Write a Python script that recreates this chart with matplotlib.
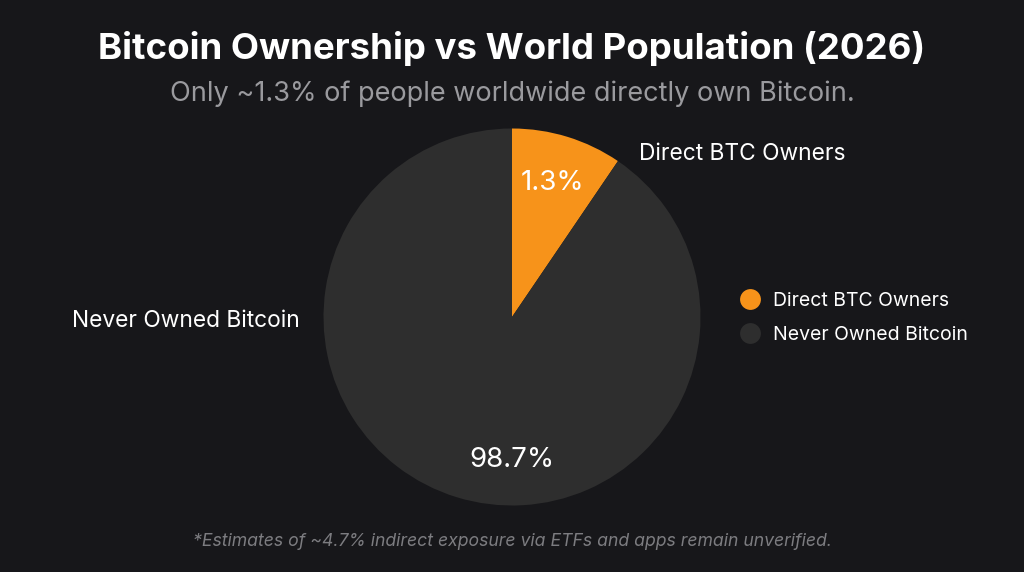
import matplotlib.pyplot as plt
from matplotlib.lines import Line2D

plt.rcParams["font.family"] = ["Inter", "DejaVu Sans"]

# data
categories = ["Direct BTC Owners", "Never Owned Bitcoin"]
ownership_pct = [1.3, 98.7]
# the drawn orange wedge is wider than 1.3% (about 34 degrees of the circle)
slice_share = [9.5, 90.5]
colors = ["#f7931a", "#2e2e2e"]

title = "Bitcoin Ownership vs World Population (2026)"
subtitle = "Only ~1.3% of people worldwide directly own Bitcoin."
footnote = "*Estimates of ~4.7% indirect exposure via ETFs and apps remain unverified."

BG = "#17171a"

fig = plt.figure(figsize=(10.24, 5.72), dpi=100, facecolor=BG)

fig.text(0.5, 1 - 48 / 572, title, ha="center", va="center",
         fontsize=26.4, fontweight="bold", color="white")
fig.text(0.5, 1 - 94 / 572, subtitle, ha="center", va="center",
         fontsize=19.5, color="#9a9a9e")
fig.text(0.5, 1 - 541 / 572, footnote, ha="center", va="center",
         fontsize=12.7, style="italic", color="#7c7c80")

# pie centred at (512, 317) px with radius ~188 px
ax = fig.add_axes([323.5 / 1024, (572 - 505.5) / 572, 377 / 1024, 377 / 572])
ax.set_facecolor(BG)
wedges, _ = ax.pie(slice_share, colors=colors, startangle=90, counterclock=False,
                   radius=1.0, wedgeprops=dict(linewidth=0))
ax.set_xlim(-1, 1)
ax.set_ylim(-1, 1)
ax.set_aspect("equal")
ax.axis("off")

# percentage labels
ax.text(0.215, 0.71, f"{ownership_pct[0]}%", ha="center", va="center",
        fontsize=20, color="white")
ax.text(0.0, -0.76, f"{ownership_pct[1]}%", ha="center", va="center",
        fontsize=20, color="white")

# outside labels
ax.text(0.675, 0.865, categories[0], ha="left", va="center",
        fontsize=16.4, color="white", clip_on=False)
ax.text(-1.125, -0.02, categories[1], ha="right", va="center",
        fontsize=16.4, color="white", clip_on=False)

handles = [Line2D([0], [0], marker="o", linestyle="none", markersize=15,
                  markerfacecolor=c, markeredgewidth=0) for c in colors]
leg = fig.legend(handles, categories, loc="center left",
                 bbox_to_anchor=(740 / 1024, 1 - 318 / 572), frameon=False,
                 fontsize=14, labelcolor="white", handlelength=1.0,
                 handletextpad=0.7, labelspacing=0.85, borderpad=0,
                 borderaxespad=0)

fig.savefig("out.png", dpi=100, facecolor=BG)
